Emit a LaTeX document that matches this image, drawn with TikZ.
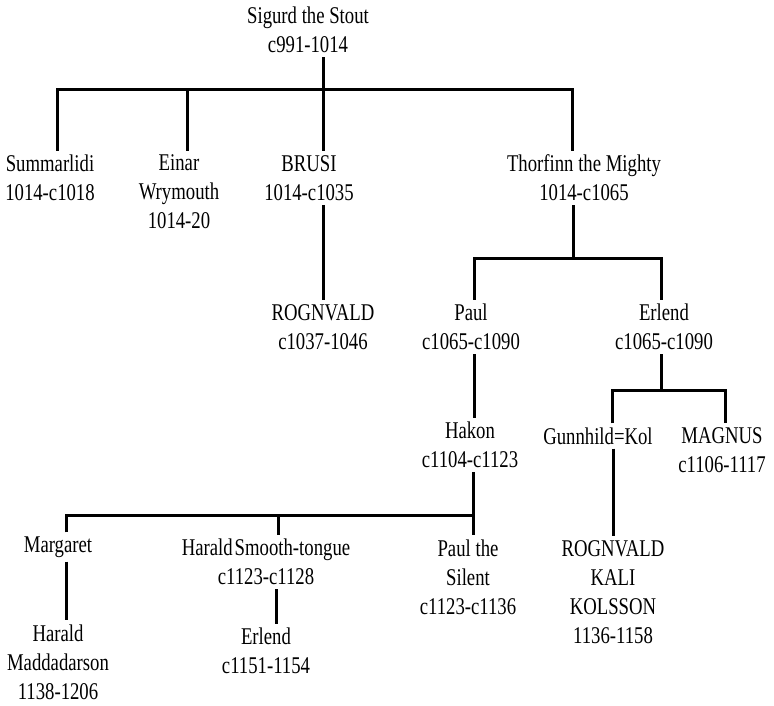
\documentclass[tikz,border=0pt]{standalone}
\usepackage{fontspec}
\setmainfont{Liberation Serif}[FakeStretch=0.78]
\usetikzlibrary{positioning}

\begin{document}
\begin{tikzpicture}[x=1pt,y=-1pt,
 person/.style={align=center,inner sep=4pt,font=\fontsize{24}{29}\selectfont},
 kin/.style={line width=3pt,black,line join=miter}]
\useasboundingbox (0,0) rectangle (774,705);
\node[person] (sigurd) at (308,30) {Sigurd the Stout\\c991-1014};
\node[person] (summ) at (50,178) {Summarlidi\\1014-c1018};
\node[person] (einar) at (179,192) {Einar\\Wrymouth\\1014-20};
\node[person] (brusi) at (309,178) {BRUSI\\1014-c1035};
\node[person] (thorfinn) at (584,178) {Thorfinn the Mighty\\1014-c1065};
\node[person] (rognvald) at (323,327) {ROGNVALD\\c1037-1046};
\node[person] (paul) at (471,327) {Paul\\c1065-c1090};
\node[person] (erlend) at (664,327) {Erlend\\c1065-c1090};
\node[person] (hakon) at (470,445) {Hakon\\c1104-c1123};
\node[person] (gunnhild) at (598,436) {Gunnhild=Kol};
\node[person] (magnus) at (722,450) {MAGNUS\\c1106-1117};
\node[person] (margaret) at (58,547) {Margaret};
\node[person] (harald) at (266,562) {Harald\hspace{2pt}Smooth-tongue\\c1123-c1128};
\node[person] (paulsilent) at (468,577) {Paul the\\Silent\\c1123-c1136};
\node[person] (kali) at (613,592) {ROGNVALD\\KALI\\KOLSSON\\1136-1158};
\node[person] (maddadarson) at (58,662) {Harald\\Maddadarson\\1138-1206};
\node[person] (erlendii) at (266,651) {Erlend\\c1151-1154};
% Sigurd's sons
\coordinate (g1l) at (57,89); \coordinate (g1r) at (572,89);
\coordinate (g1e) at (187,89); \coordinate (g1t) at (323,89);
\draw[kin] (summ.north -| g1l) -- (g1l) -- (g1r) -- (thorfinn.north -| g1r);
\draw[kin] (g1e) -- (einar.north -| g1e);
\draw[kin] (sigurd.south -| g1t) -- (brusi.north -| g1t);
\draw[kin] (brusi.south -| g1t) -- (rognvald.north -| g1t);
% Thorfinn's sons
\coordinate (g2t) at (573,258);
\coordinate (g2l) at (474,258); \coordinate (g2r) at (661,258);
\draw[kin] (thorfinn.south -| g2t) -- (g2t);
\draw[kin] (paul.north -| g2l) -- (g2l) -- (g2r) -- (erlend.north -| g2r);
\draw[kin] (paul.south -| g2l) -- (hakon.north -| g2l);
% Erlend's children
\coordinate (g3t) at (661,390);
\coordinate (g3l) at (612,390); \coordinate (g3r) at (725,390);
\draw[kin] (erlend.south -| g3t) -- (g3t);
\draw[kin] (gunnhild.north -| g3l) -- (g3l) -- (g3r) -- (magnus.north -| g3r);
\draw[kin] (gunnhild.south -| kali) -- (kali.north);
% Hakon's children
\coordinate (g4l) at (66,515); \coordinate (g4r) at (473,515);
\coordinate (g4h) at (278,515);
\draw[kin] (margaret.north -| g4l) -- (g4l) -- (g4r);
\draw[kin] (hakon.south -| g4r) -- (paulsilent.north -| g4r);
\draw[kin] (g4h) -- (harald.north -| g4h);
\draw[kin] (margaret.south -| g4l) -- (maddadarson.north -| g4l);
\draw[kin] ([xshift=10pt]harald.south) -- ([xshift=10pt]erlendii.north);
\end{tikzpicture}
\end{document}
